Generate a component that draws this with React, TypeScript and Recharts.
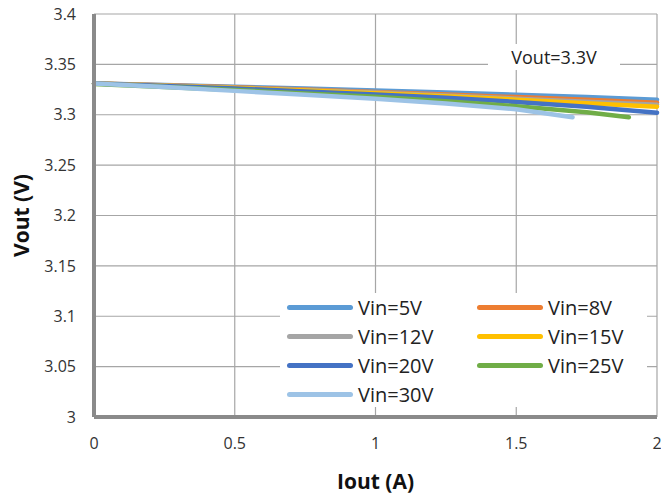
import React from 'react';
import { LineChart, Line, XAxis, YAxis, CartesianGrid, Legend } from 'recharts';

const ioutFull = [0, 0.25, 0.5, 0.75, 1, 1.25, 1.5, 1.75, 2];
const iout25 = [0, 0.25, 0.5, 0.75, 1, 1.25, 1.5, 1.75, 1.9];
const iout30 = [0, 0.25, 0.5, 0.75, 1, 1.25, 1.5, 1.7];

const vin5 = [3.331, 3.3295, 3.3278, 3.326, 3.324, 3.322, 3.3198, 3.3175, 3.315];
const vin8 = [3.331, 3.3292, 3.3272, 3.325, 3.3227, 3.3202, 3.3175, 3.3148, 3.312];
const vin12 = [3.331, 3.329, 3.3268, 3.3245, 3.322, 3.3192, 3.316, 3.313, 3.31];
const vin15 = [3.331, 3.3288, 3.3265, 3.324, 3.3213, 3.3183, 3.315, 3.3115, 3.308];
const vin20 = [3.331, 3.3285, 3.326, 3.3232, 3.3202, 3.3168, 3.3127, 3.308, 3.302];
const vin25 = [3.3305, 3.3275, 3.3245, 3.3212, 3.3178, 3.3135, 3.3085, 3.3025, 3.2975];
const vin30 = [3.331, 3.3275, 3.3237, 3.3198, 3.3158, 3.3112, 3.3055, 3.2975];

const xTicks = [0, 0.5, 1, 1.5, 2];
const yTicks = [3, 3.05, 3.1, 3.15, 3.2, 3.25, 3.3, 3.35, 3.4];
const annotation = 'Vout=3.3V';

const toPoints = (xs: number[], ys: number[]) => xs.map((x, i) => ({ x, y: ys[i] }));

const series = [
  { name: 'Vin=5V', color: '#5B9BD5', data: toPoints(ioutFull, vin5) },
  { name: 'Vin=8V', color: '#ED7D31', data: toPoints(ioutFull, vin8) },
  { name: 'Vin=12V', color: '#A5A5A5', data: toPoints(ioutFull, vin12) },
  { name: 'Vin=15V', color: '#FFC000', data: toPoints(ioutFull, vin15) },
  { name: 'Vin=20V', color: '#4472C4', data: toPoints(ioutFull, vin20) },
  { name: 'Vin=25V', color: '#70AD47', data: toPoints(iout25, vin25) },
  { name: 'Vin=30V', color: '#9DC3E6', data: toPoints(iout30, vin30) },
];
const seriesOrder = series.map((s) => s.name);

const FONT = '"Open Sans", "Liberation Sans", sans-serif';
const FRAME = '#8a8a8a';

const renderLegend = (props: any) => {
  const payload = [...(props.payload || [])].sort(
    (a: any, b: any) => seriesOrder.indexOf(a.value) - seriesOrder.indexOf(b.value)
  );
  return (
    <div
      style={{
        display: 'grid',
        gridTemplateColumns: '190px 170px',
        gridAutoRows: '29px',
        paddingLeft: 7,
        fontFamily: FONT,
      }}
    >
      {payload.map((entry: any) => (
        <div key={entry.value} style={{ display: 'flex', alignItems: 'center', height: 29 }}>
          <span
            style={{
              display: 'inline-block',
              width: 66,
              height: 5,
              borderRadius: 3,
              background: entry.color,
              marginRight: 5,
            }}
          />
          <span style={{ fontSize: 20, color: '#222', whiteSpace: 'nowrap' }}>{entry.value}</span>
        </div>
      ))}
    </div>
  );
};

const YTitle = (props: any) => {
  const vb = props.viewBox || { x: 0, y: 0, width: 0, height: 0 };
  const cx = vb.x + 29;
  const cy = vb.y + vb.height / 2;
  return (
    <text
      x={cx}
      y={cy}
      transform={`rotate(-90, ${cx}, ${cy})`}
      textAnchor="middle"
      fontFamily={FONT}
      fontWeight="bold"
      fontSize={21}
      fill="#111"
    >
      Vout (V)
    </text>
  );
};

const XTitle = (props: any) => {
  const vb = props.viewBox || { x: 0, y: 0, width: 0, height: 0 };
  const cx = vb.x + vb.width / 2;
  const cy = vb.y + vb.height - 6;
  return (
    <text x={cx} y={cy} textAnchor="middle" fontFamily={FONT} fontWeight="bold" fontSize={21} fill="#111">
      Iout (A)
    </text>
  );
};

export default function App() {
  return (
    <div style={{ position: 'absolute', left: 0, top: 0, width: 661, height: 495, background: '#fff' }}>
      <LineChart width={661} height={495} margin={{ top: 14, right: 4, bottom: 0, left: 0 }}>
        <CartesianGrid stroke="#a6a6a6" strokeWidth={1.2} horizontalValues={yTicks} verticalValues={xTicks} />
        <XAxis
          dataKey="x"
          type="number"
          domain={[0, 2]}
          ticks={xTicks}
          allowDuplicatedCategory={false}
          height={78}
          tickLine={false}
          tickSize={0}
          tickMargin={21}
          axisLine={{ stroke: FRAME, strokeWidth: 4 }}
          tick={{ fontSize: 16, fontFamily: FONT, fill: '#333' }}
          label={<XTitle />}
        />
        <XAxis
          xAxisId="top"
          orientation="top"
          dataKey="x"
          type="number"
          domain={[0, 2]}
          height={0}
          tick={false}
          tickLine={false}
          axisLine={{ stroke: FRAME, strokeWidth: 4 }}
        />
        <YAxis
          type="number"
          domain={[3, 3.4]}
          ticks={yTicks}
          width={94}
          tickLine={false}
          tickSize={0}
          tickMargin={18}
          axisLine={{ stroke: FRAME, strokeWidth: 4 }}
          tick={{ fontSize: 16, fontFamily: FONT, fill: '#333' }}
          label={<YTitle />}
        />
        <YAxis
          yAxisId="right"
          orientation="right"
          type="number"
          domain={[3, 3.4]}
          width={0}
          tick={false}
          tickLine={false}
          axisLine={{ stroke: FRAME, strokeWidth: 4 }}
        />
        <Legend
          layout="horizontal"
          verticalAlign="middle"
          align="center"
          content={renderLegend}
          wrapperStyle={{
            position: 'absolute',
            left: 280,
            top: 293,
            width: 367,
            height: 114,
            background: '#fff',
          }}
        />
        {series.map((s) => (
          <Line
            key={s.name}
            name={s.name}
            data={s.data}
            dataKey="y"
            type="linear"
            stroke={s.color}
            strokeWidth={4.5}
            strokeLinecap="round"
            dot={false}
            activeDot={false}
            isAnimationActive={false}
          />
        ))}
      </LineChart>
      <div
        style={{
          position: 'absolute',
          left: 488,
          top: 44,
          width: 132,
          height: 26,
          background: '#fff',
          textAlign: 'center',
          fontFamily: FONT,
          fontSize: 18,
          lineHeight: '26px',
          color: '#222',
        }}
      >
        {annotation}
      </div>
    </div>
  );
}
